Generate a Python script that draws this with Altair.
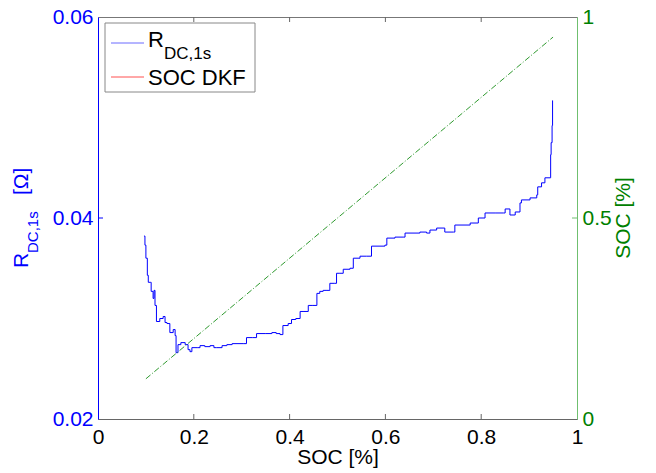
import altair as alt
import pandas as pd

# ---- data ----
soc = [0.096, 0.098, 0.100, 0.103, 0.105, 0.109, 0.111, 0.115, 0.117, 0.119,
       0.122, 0.129, 0.136, 0.140, 0.144, 0.150, 0.157, 0.161, 0.163, 0.167,
       0.173, 0.182, 0.188, 0.192, 0.196, 0.207, 0.213, 0.223, 0.234, 0.242,
       0.248, 0.259, 0.269, 0.280, 0.303, 0.310, 0.322, 0.331, 0.349, 0.363,
       0.372, 0.380, 0.386, 0.397, 0.404, 0.413, 0.422, 0.430, 0.439, 0.447,
       0.457, 0.463, 0.470, 0.478, 0.484, 0.493, 0.498, 0.505, 0.512, 0.526,
       0.533, 0.547, 0.561, 0.571, 0.599, 0.603, 0.620, 0.637, 0.641, 0.672,
       0.686, 0.693, 0.707, 0.724, 0.742, 0.745, 0.777, 0.794, 0.808, 0.829,
       0.846, 0.850, 0.860, 0.871, 0.881, 0.884, 0.902, 0.916, 0.918, 0.926,
       0.933, 0.944, 0.945, 0.946, 0.948, 0.949]
r_dc = [0.0382, 0.0373, 0.0360, 0.0343, 0.0336, 0.0336, 0.0327, 0.0320, 0.0328, 0.0313,
        0.0297, 0.0300, 0.0302, 0.0296, 0.0295, 0.0286, 0.0289, 0.0283, 0.0266, 0.0274,
        0.0276, 0.0274, 0.0269, 0.0267, 0.0271, 0.0271, 0.0273, 0.0272, 0.0273, 0.0271,
        0.0271, 0.0273, 0.0274, 0.0275, 0.0275, 0.0281, 0.0281, 0.0285, 0.0285, 0.0286,
        0.0285, 0.0284, 0.0293, 0.0295, 0.0299, 0.0300, 0.0307, 0.0307, 0.0313, 0.0313,
        0.0325, 0.0327, 0.0328, 0.0328, 0.0335, 0.0335, 0.0345, 0.0345, 0.0349, 0.0350,
        0.0360, 0.0362, 0.0362, 0.0372, 0.0373, 0.0380, 0.0381, 0.0381, 0.0385, 0.0386,
        0.0385, 0.0388, 0.0390, 0.0386, 0.0386, 0.0393, 0.0395, 0.0400, 0.0405, 0.0405,
        0.0405, 0.0409, 0.0403, 0.0406, 0.0415, 0.0418, 0.0420, 0.0423, 0.0431, 0.0435,
        0.0440, 0.0440, 0.0463, 0.0475, 0.0492, 0.0517]
soc_ref = [0.10, 0.95]
soc_est = [0.10, 0.95]
x_tick_values = [0, 0.2, 0.4, 0.6, 0.8, 1]
x_inner_ticks = [0.2, 0.4, 0.6, 0.8]
left_tick_values = [0.02, 0.04, 0.06]
left_inner_ticks = [0.04]
right_tick_values = [0, 0.5, 1]
right_inner_ticks = [0.5]

W, H = 479, 402
FONT = "Liberation Sans"
BLUE = "#0000ff"
GREEN = "#008000"

df_r = pd.DataFrame({"soc": soc, "r": r_dc})
df_s = pd.DataFrame({"soc": soc_ref, "s": soc_est})
df_xt = pd.DataFrame({"soc": x_inner_ticks})
df_lt = pd.DataFrame({"r": left_inner_ticks})
df_rt = pd.DataFrame({"s": right_inner_ticks})
one = pd.DataFrame({"k": [0]})

xscale = alt.Scale(domain=[0, 1], nice=False, zero=False)
lscale = alt.Scale(domain=[0.02, 0.06], nice=False, zero=False)
rscale = alt.Scale(domain=[0, 1], nice=False, zero=False)

xaxis = alt.Axis(values=x_tick_values, format="~g", title="SOC [%]", ticks=False, grid=False,
                 labelFlush=False, labelOverlap=False, labelFont=FONT, labelFontSize=21,
                 labelColor="black", labelPadding=7, domainColor="#666666",
                 titleFont=FONT, titleFontSize=21, titleFontWeight="normal", titleColor="black",
                 titleY=44, titleBaseline="alphabetic")
laxis = alt.Axis(values=left_tick_values, format=".2f", title=None, ticks=False, grid=False,
                 labelFlush=False, labelOverlap=False, labelFont=FONT, labelFontSize=21,
                 labelColor=BLUE, labelPadding=5, domainColor=BLUE)
raxis = alt.Axis(orient="right", values=right_tick_values, format="~g", title=None, ticks=False,
                 grid=False, labelFlush=False, labelOverlap=False, labelFont=FONT, labelFontSize=21,
                 labelColor=GREEN, labelPadding=5, domainColor="#6fbf6f")

X = alt.X("soc:Q", scale=xscale, axis=xaxis)

blue = alt.Chart(df_r).mark_line(color=BLUE, strokeWidth=1, interpolate="step-after").encode(
    x=X, y=alt.Y("r:Q", scale=lscale, axis=laxis))
bt = alt.Chart(df_xt).mark_rule(color="#666666").encode(x=X, y=alt.value(H), y2=alt.value(H - 5))
tt = alt.Chart(df_xt).mark_rule(color="#666666").encode(x=X, y=alt.value(0), y2=alt.value(5))
lt = alt.Chart(df_lt).mark_rule(color=BLUE).encode(
    y=alt.Y("r:Q", scale=lscale, axis=laxis), x=alt.value(0), x2=alt.value(5))
left = alt.layer(blue, bt, tt, lt)

green = alt.Chart(df_s).mark_line(color="#2f9a2f", strokeWidth=1, strokeDash=[6, 2, 1, 2]).encode(
    x=X, y=alt.Y("s:Q", scale=rscale, axis=raxis))
rt = alt.Chart(df_rt).mark_rule(color="#6fbf6f").encode(
    y=alt.Y("s:Q", scale=rscale, axis=raxis), x=alt.value(W - 5), x2=alt.value(W))
right = alt.layer(green, rt)


def txt(s, x, y, size, color, angle=0, align="left", baseline="alphabetic"):
    kw = dict(font=FONT, fontSize=size, color=color, align=align, baseline=baseline)
    if angle:
        kw["angle"] = angle
    return alt.Chart(one).mark_text(**kw).encode(
        x=alt.value(x), y=alt.value(y), text=alt.value(s))


# left y title with subscript
ytitle = [
    txt("R", -70, 251, 21, BLUE, angle=270),
    txt("DC,1s", -60, 236, 15, BLUE, angle=270),
    txt("[Ω]", -70, 178, 21, BLUE, angle=270),
]
rtitle = txt("SOC [%]", 532, 201, 21, GREEN, angle=270, align="center")

# legend
box = alt.Chart(one).mark_rect(fill="white", stroke="#888888", strokeWidth=1).encode(
    x=alt.value(7), x2=alt.value(157), y=alt.value(6), y2=alt.value(75))
l1 = alt.Chart(one).mark_rule(color="#6b6bff", strokeWidth=1).encode(
    x=alt.value(13), x2=alt.value(46), y=alt.value(26))
l2 = alt.Chart(one).mark_rule(color="#ff5050", strokeWidth=1).encode(
    x=alt.value(13), x2=alt.value(46), y=alt.value(60))
legend = [box, l1, l2,
          txt("R", 50, 30, 22, "black"),
          txt("DC,1s", 66, 42, 17, "black"),
          txt("SOC DKF", 50, 68, 22, "black")]

chart = alt.layer(left, right, *ytitle, rtitle, *legend).resolve_scale(y="independent").properties(
    width=W, height=H,
    padding={"left": 98, "top": 17, "right": 79, "bottom": 54},
    autosize=alt.AutoSizeParams(type="none"),
    background="white",
).configure_view(stroke="#777777", strokeWidth=1)

chart.save("out.html", embed_options={"renderer": "svg", "actions": False})
